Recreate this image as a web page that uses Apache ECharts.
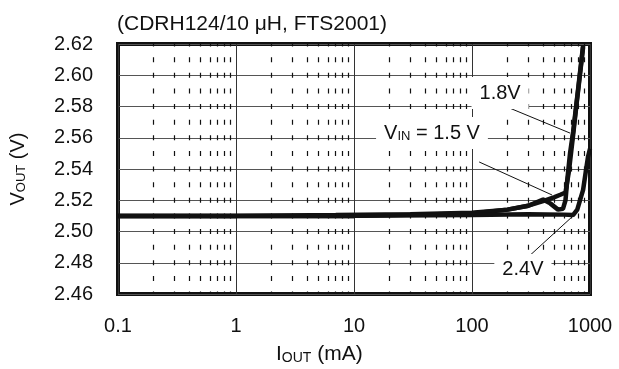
<!DOCTYPE html>
<html><head><meta charset="utf-8">
<script src="https://cdn.jsdelivr.net/npm/echarts@6/dist/echarts.min.js"></script>
<style>html,body{margin:0;padding:0;background:#fff}#c{width:619px;height:369px}</style>
</head><body><div id="c"></div>
<script>
const FONT = "'Liberation Sans', Arial, sans-serif";
// x tick labels and y range
const xTicks = [0.1, 1, 10, 100, 1000];
const yTicks = [2.46, 2.48, 2.50, 2.52, 2.54, 2.56, 2.58, 2.60, 2.62];
const minorX = [0.2,0.3,0.4,0.5,0.6,0.7,0.8,0.9, 2,3,4,5,6,7,8,9, 20,30,40,50,60,70,80,90, 200,300,400,500,600,700,800,900];

// V_IN = 1.8 V
const iout18 = [0.1, 1, 7, 30, 100, 200, 300, 400, 500, 560, 620, 664, 720, 776, 830, 874];
const vout18 = [2.510, 2.510, 2.5105, 2.511, 2.512, 2.514, 2.5165, 2.5195, 2.522, 2.5235, 2.525, 2.539, 2.562, 2.584, 2.603, 2.618];
// V_IN = 1.5 V
const iout15 = [0.1, 1, 10, 100, 200, 300, 400, 460, 536, 590, 620, 638, 677, 720, 776, 874];
const vout15 = [2.510, 2.510, 2.510, 2.5115, 2.514, 2.5165, 2.5205, 2.518, 2.514, 2.5145, 2.520, 2.531, 2.550, 2.564, 2.585, 2.619];
// V_IN = 2.4 V
const iout24 = [0.1, 1, 10, 100, 300, 600, 718, 780, 874, 961, 1000];
const vout24 = [2.510, 2.510, 2.510, 2.5105, 2.511, 2.5108, 2.5105, 2.514, 2.5266, 2.5477, 2.553];

// annotation label anchors (data coords) and leader lines
const labelTexts = ['1.8V', '{v|V}{s|IN}{v| = 1.5 V}', '2.4V'];
const labelX = [173, 45.8, 270];
const labelY = [2.5886, 2.563, 2.4754];
const leadFromX = [198, 115, 281];
const leadFromY = [2.5797, 2.5445, 2.4818];
const leadToX = [677, 476, 703];
const leadToY = [2.563, 2.5234, 2.5093];

const zip = (a, b) => a.map((v, i) => [v, b[i]]);
const chart = echarts.init(document.getElementById('c'));

const labelStyle = {
  show: true, position: 'inside', color: '#111', fontSize: 20, fontFamily: FONT,
  backgroundColor: '#fff', padding: [6, 8],
  rich: { v: { fontSize: 20, fontFamily: FONT, color: '#111' },
          s: { fontSize: 13, fontFamily: FONT, color: '#111', verticalAlign: 'bottom' } }
};

const curve = (name, data) => ({
  name, type: 'line', data, showSymbol: false, symbol: 'none', z: 4,
  lineStyle: { color: '#111', width: 4.5 }, smooth: false, clip: false
});

chart.setOption({
  animation: false,
  backgroundColor: '#fff',
  textStyle: { fontFamily: FONT },
  title: [
    { text: '(CDRH124/10 \u03bcH, FTS2001)', left: 112, top: 9,
      textStyle: { fontSize: 21, fontWeight: 'normal', color: '#111', fontFamily: FONT } },
    { text: '{v|I}{s|OUT}{v| (mA)}', left: 271, top: 339,
      textStyle: { fontSize: 21, fontWeight: 'normal', color: '#111', fontFamily: FONT,
        rich: { v: { fontSize: 21, fontFamily: FONT, color: '#111' },
                s: { fontSize: 14, fontFamily: FONT, color: '#111', verticalAlign: 'bottom' } } } }
  ],
  grid: { left: 118, right: 29, top: 44, bottom: 75, show: true, borderColor: '#111', borderWidth: 4 },
  xAxis: {
    type: 'log', logBase: 10, min: xTicks[0], max: xTicks[xTicks.length - 1],
    axisLine: { show: false }, axisTick: { show: false },
    axisLabel: { margin: 22, fontSize: 20, color: '#111', fontFamily: FONT,
      formatter: v => String(+(+v).toPrecision(3)) },
    splitLine: { show: true, lineStyle: { color: '#333', width: 1 } }
  },
  yAxis: {
    type: 'value', min: yTicks[0], max: yTicks[yTicks.length - 1], interval: 0.02,
    axisLine: { show: false }, axisTick: { show: false },
    axisLabel: { margin: 25, fontSize: 20, color: '#111', fontFamily: FONT, formatter: v => (+v).toFixed(2) },
    splitLine: { show: true, lineStyle: { color: '#555', width: 1 } },
    name: '{v|V}{s|OUT}{v| (V)}', nameLocation: 'middle', nameGap: 90, nameRotate: 90,
    nameTextStyle: { fontSize: 20, color: '#111', fontFamily: FONT,
      rich: { v: { fontSize: 20, fontFamily: FONT, color: '#111' },
              s: { fontSize: 13, fontFamily: FONT, color: '#111', verticalAlign: 'bottom' } } }
  },
  series: [
    { type: 'line', data: [], z: 1, silent: true,
      markLine: { silent: true, symbol: 'none', animation: false, z: 1,
        label: { show: false },
        lineStyle: { color: '#111', width: 1.2, type: [5, 10.625], dashOffset: 2.5 },
        data: minorX.map(v => ({ xAxis: v })) } },
    curve('1.5V', zip(iout15, vout15)),
    curve('1.8V', zip(iout18, vout18)),
    curve('2.4V', zip(iout24, vout24)),
    { type: 'line', data: [], z: 5, silent: true,
      markLine: { silent: true, symbol: 'none', animation: false, z: 5,
        label: { show: false },
        lineStyle: { color: '#111', width: 1, type: 'solid' },
        data: leadFromX.map((x, i) => [{ coord: [x, leadFromY[i]] }, { coord: [leadToX[i], leadToY[i]] }]) },
      markPoint: { silent: true, symbol: 'rect', symbolSize: 0, animation: false, z: 6,
        label: labelStyle,
        data: labelX.map((x, i) => ({ coord: [x, labelY[i]], value: labelTexts[i],
          label: Object.assign({}, labelStyle, { formatter: labelTexts[i] }) })) } }
  ]
});
</script></body></html>
